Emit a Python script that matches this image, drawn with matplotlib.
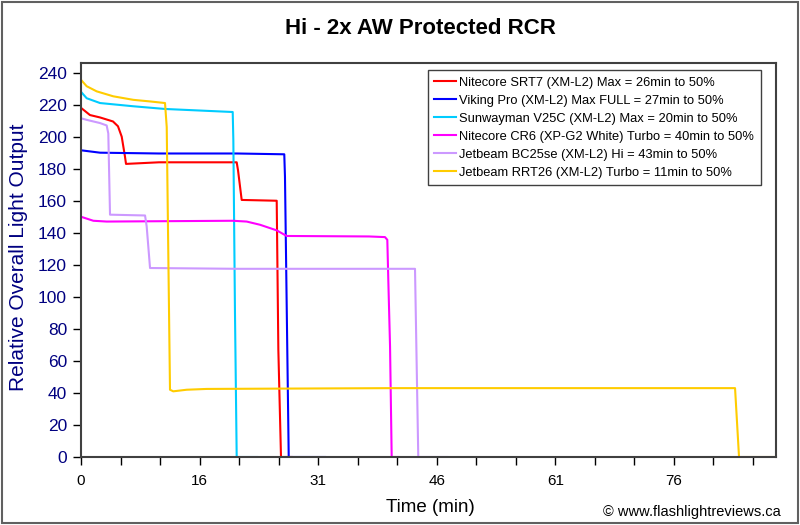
import matplotlib
matplotlib.use('Agg')
import matplotlib.pyplot as plt
from matplotlib.patches import Rectangle

plt.rcParams['font.family'] = ['Liberation Sans', 'DejaVu Sans']

# runtime data (minutes, relative output)
srt7_t = [0, 1.15, 2.44, 4.10, 4.74, 5.22, 5.64, 5.77, 10, 15, 19.96, 20.13, 20.60, 25.09, 25.30, 25.64, 27.0]
srt7_v = [218, 213.5, 212, 209.5, 206.5, 200, 187.5, 183, 184, 184, 184, 179, 160.5, 160, 67, 0, 0]

viking_t = [0, 2.44, 10, 20, 26.06, 26.15, 26.63, 31.28]
viking_v = [191.5, 190, 189.5, 189.5, 189, 175, 0, 0]

v25c_t = [0, 0.73, 2.44, 6.67, 10.77, 19.45, 19.53, 19.74, 19.96, 22.56]
v25c_v = [228, 224, 221, 219, 217.3, 215.4, 198, 90, 0, 0]

cr6_t = [0, 1.58, 3.29, 19.45, 21.24, 22.95, 25.09, 26.37, 36.92, 38.97, 39.27, 39.40, 39.62, 39.83, 40.68]
cr6_v = [150, 147.5, 147, 147.5, 147, 145, 141.5, 138, 137.7, 137.3, 135.6, 110, 69, 0, 0]

bc25_t = [0, 0.73, 2.44, 3.29, 3.5, 3.72, 8.21, 8.42, 8.85, 20, 30, 42.82, 43.24, 46.92]
bc25_v = [211.5, 210.5, 208.5, 207, 202, 151.3, 150.8, 144, 118, 117.5, 117.5, 117.5, 0, 0]

rrt26_t = [0, 0.73, 2.01, 4.14, 6.71, 8.85, 10.77, 10.99, 11.41, 11.83, 13.55, 16.12, 40, 83.85, 84.36, 89.1]
rrt26_v = [235.5, 231.5, 228.3, 225.2, 223, 222, 221, 206, 42, 41, 42, 42.5, 43, 43, 0, 0]

labels = ['Nitecore SRT7 (XM-L2) Max = 26min to 50%',
          'Viking Pro (XM-L2) Max FULL = 27min to 50%',
          'Sunwayman V25C (XM-L2) Max = 20min to 50%',
          'Nitecore CR6 (XP-G2 White) Turbo = 40min to 50%',
          'Jetbeam BC25se (XM-L2) Hi = 43min to 50%',
          'Jetbeam RRT26 (XM-L2) Turbo = 11min to 50%']
colors = ['#FF0000', '#0000FF', '#00CCFF', '#FF00FF', '#CC99FF', '#FFCC00']

xtick_labels = ['0', '16', '31', '46', '61', '76']
label_step = 15.2

fig = plt.figure(figsize=(8, 5.25), dpi=100)
ax = fig.add_axes([81/800, 1 - 457/525, 695/800, 394/525])

series = [(srt7_t, srt7_v), (viking_t, viking_v), (v25c_t, v25c_v),
          (cr6_t, cr6_v), (bc25_t, bc25_v), (rrt26_t, rrt26_v)]
for (t, v), lab, c in zip(series, labels, colors):
    ax.plot(t, v, color=c, lw=1.5, label=lab)

ax.set_xlim(0, 89.1)
ax.set_ylim(0, 246)
ax.set_yticks(range(0, 241, 20))

# category-style axis: a tick every third of a label step
xt = [k * label_step / 3 for k in range(18)]
xl = [xtick_labels[k // 3] if k % 3 == 0 else '' for k in range(18)]
ax.set_xticks(xt)
ax.set_xticklabels(xl)

ax.tick_params(axis='y', labelsize=12.5, labelcolor='#000080', direction='out', length=6, width=1, pad=4)
ax.tick_params(axis='x', labelsize=11, direction='out', length=6, width=1, pad=6)

for s in ax.spines.values():
    s.set_color('#404040')
    s.set_linewidth(1.5)

fig.text(19/800, 1 - 257/525, 'Relative Overall Light Output', rotation=90,
         fontsize=15, color='#000080', ha='center', va='center')
fig.text(430/800, 1 - 507/525, 'Time (min)', fontsize=13.5, ha='center', va='center')
fig.text(420.5/800, 1 - 28/525, 'Hi - 2x AW Protected RCR', fontsize=16,
         fontweight='bold', ha='center', va='center')
fig.text(781/800, 1 - 512/525, '\u00a9 www.flashlightreviews.ca', fontsize=10.5,
         ha='right', va='center')

leg = ax.legend(loc='upper right', bbox_to_anchor=(0.978, 0.982), borderaxespad=0,
                fontsize=9.3, frameon=True, fancybox=False, framealpha=1,
                edgecolor='#404040', handlelength=1.7, handletextpad=0.25,
                labelspacing=0.46, borderpad=0.5)
leg.get_frame().set_linewidth(1.0)

fig.patches.append(Rectangle((0.003, 0.004), 0.994, 0.992, transform=fig.transFigure,
                             fill=False, edgecolor='#606060', linewidth=1.5))

fig.savefig('out.png', dpi=100)
